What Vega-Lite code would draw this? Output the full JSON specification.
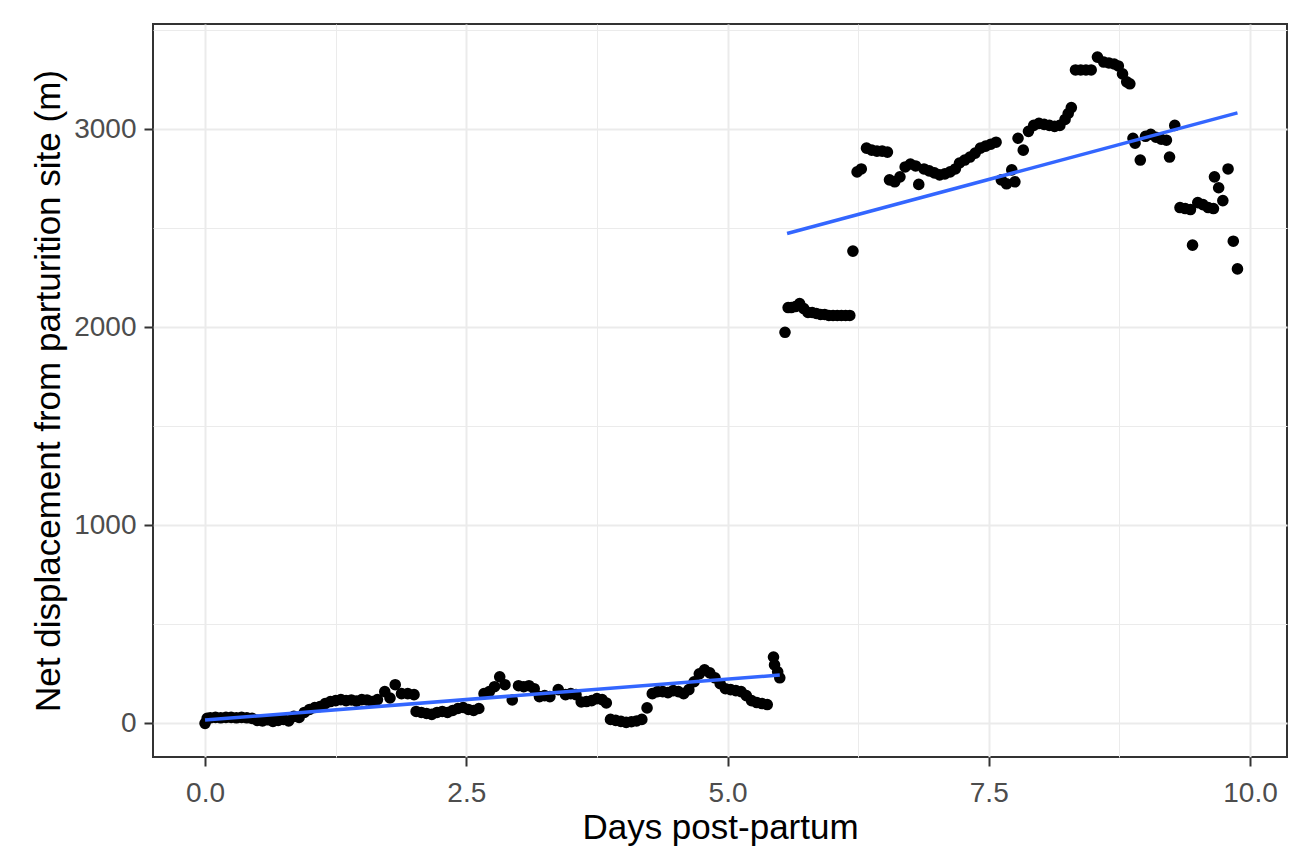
{
  "$schema": "https://vega.github.io/schema/vega-lite/v6.json",
  "width": 1134,
  "height": 733,
  "autosize": {"type": "none"},
  "padding": {"left": 153, "top": 24, "right": 2, "bottom": 103},
  "background": "white",
  "config": {
    "view": {"stroke": "#333333", "strokeWidth": 2},
    "font": "Liberation Sans"
  },
  "datasets": {
    "fit": [
      {"d": 0.00, "m": 17, "s": 1}, {"d": 5.50, "m": 244, "s": 1},
      {"d": 5.57, "m": 2474, "s": 2}, {"d": 9.88, "m": 3083, "s": 2}
    ],
    "pts": [
      {"d": 0.00, "m": 0, "s": 1}, {"d": 0.02, "m": 25, "s": 1}, {"d": 0.05, "m": 28, "s": 1}, {"d": 0.10, "m": 30, "s": 1},
      {"d": 0.15, "m": 28, "s": 1}, {"d": 0.20, "m": 30, "s": 1}, {"d": 0.25, "m": 30, "s": 1}, {"d": 0.30, "m": 28, "s": 1},
      {"d": 0.35, "m": 30, "s": 1}, {"d": 0.40, "m": 28, "s": 1}, {"d": 0.45, "m": 25, "s": 1}, {"d": 0.50, "m": 15, "s": 1},
      {"d": 0.55, "m": 12, "s": 1}, {"d": 0.60, "m": 18, "s": 1}, {"d": 0.65, "m": 10, "s": 1}, {"d": 0.70, "m": 15, "s": 1},
      {"d": 0.75, "m": 20, "s": 1}, {"d": 0.80, "m": 12, "s": 1}, {"d": 0.85, "m": 35, "s": 1}, {"d": 0.90, "m": 30, "s": 1},
      {"d": 0.95, "m": 55, "s": 1}, {"d": 1.00, "m": 70, "s": 1}, {"d": 1.05, "m": 80, "s": 1}, {"d": 1.10, "m": 85, "s": 1},
      {"d": 1.15, "m": 100, "s": 1}, {"d": 1.20, "m": 110, "s": 1}, {"d": 1.25, "m": 115, "s": 1}, {"d": 1.30, "m": 120, "s": 1},
      {"d": 1.35, "m": 115, "s": 1}, {"d": 1.40, "m": 118, "s": 1}, {"d": 1.45, "m": 112, "s": 1}, {"d": 1.50, "m": 120, "s": 1},
      {"d": 1.55, "m": 118, "s": 1}, {"d": 1.60, "m": 110, "s": 1}, {"d": 1.65, "m": 120, "s": 1}, {"d": 1.72, "m": 160, "s": 1},
      {"d": 1.77, "m": 128, "s": 1}, {"d": 1.82, "m": 195, "s": 1}, {"d": 1.88, "m": 150, "s": 1}, {"d": 1.94, "m": 150, "s": 1},
      {"d": 2.00, "m": 145, "s": 1}, {"d": 2.02, "m": 60, "s": 1}, {"d": 2.07, "m": 55, "s": 1}, {"d": 2.12, "m": 50, "s": 1},
      {"d": 2.17, "m": 45, "s": 1}, {"d": 2.22, "m": 55, "s": 1}, {"d": 2.27, "m": 60, "s": 1}, {"d": 2.32, "m": 55, "s": 1},
      {"d": 2.37, "m": 65, "s": 1}, {"d": 2.42, "m": 75, "s": 1}, {"d": 2.47, "m": 80, "s": 1}, {"d": 2.52, "m": 70, "s": 1},
      {"d": 2.57, "m": 65, "s": 1}, {"d": 2.62, "m": 75, "s": 1}, {"d": 2.67, "m": 150, "s": 1}, {"d": 2.72, "m": 160, "s": 1},
      {"d": 2.77, "m": 185, "s": 1}, {"d": 2.82, "m": 235, "s": 1}, {"d": 2.87, "m": 195, "s": 1}, {"d": 2.94, "m": 118, "s": 1},
      {"d": 3.00, "m": 190, "s": 1}, {"d": 3.05, "m": 185, "s": 1}, {"d": 3.10, "m": 190, "s": 1}, {"d": 3.15, "m": 175, "s": 1},
      {"d": 3.20, "m": 135, "s": 1}, {"d": 3.25, "m": 140, "s": 1}, {"d": 3.30, "m": 135, "s": 1}, {"d": 3.38, "m": 170, "s": 1},
      {"d": 3.45, "m": 145, "s": 1}, {"d": 3.50, "m": 150, "s": 1}, {"d": 3.55, "m": 145, "s": 1}, {"d": 3.60, "m": 108, "s": 1},
      {"d": 3.65, "m": 110, "s": 1}, {"d": 3.70, "m": 115, "s": 1}, {"d": 3.75, "m": 125, "s": 1}, {"d": 3.80, "m": 120, "s": 1},
      {"d": 3.84, "m": 103, "s": 1}, {"d": 3.88, "m": 20, "s": 1}, {"d": 3.93, "m": 15, "s": 1}, {"d": 3.98, "m": 10, "s": 1},
      {"d": 4.03, "m": 5, "s": 1}, {"d": 4.08, "m": 8, "s": 1}, {"d": 4.13, "m": 12, "s": 1}, {"d": 4.18, "m": 20, "s": 1},
      {"d": 4.23, "m": 78, "s": 1}, {"d": 4.28, "m": 150, "s": 1}, {"d": 4.33, "m": 160, "s": 1}, {"d": 4.38, "m": 160, "s": 1},
      {"d": 4.43, "m": 155, "s": 1}, {"d": 4.48, "m": 165, "s": 1}, {"d": 4.53, "m": 160, "s": 1}, {"d": 4.58, "m": 150, "s": 1},
      {"d": 4.63, "m": 170, "s": 1}, {"d": 4.68, "m": 210, "s": 1}, {"d": 4.73, "m": 250, "s": 1}, {"d": 4.78, "m": 270, "s": 1},
      {"d": 4.83, "m": 255, "s": 1}, {"d": 4.88, "m": 230, "s": 1}, {"d": 4.93, "m": 200, "s": 1}, {"d": 4.98, "m": 175, "s": 1},
      {"d": 5.03, "m": 170, "s": 1}, {"d": 5.08, "m": 165, "s": 1}, {"d": 5.13, "m": 160, "s": 1}, {"d": 5.18, "m": 140, "s": 1},
      {"d": 5.23, "m": 115, "s": 1}, {"d": 5.28, "m": 105, "s": 1}, {"d": 5.33, "m": 100, "s": 1}, {"d": 5.38, "m": 95, "s": 1},
      {"d": 5.44, "m": 335, "s": 1}, {"d": 5.45, "m": 295, "s": 1}, {"d": 5.48, "m": 260, "s": 1}, {"d": 5.50, "m": 230, "s": 1},
      {"d": 5.55, "m": 1975, "s": 2}, {"d": 5.58, "m": 2100, "s": 2}, {"d": 5.61, "m": 2100, "s": 2}, {"d": 5.65, "m": 2105, "s": 2},
      {"d": 5.69, "m": 2120, "s": 2}, {"d": 5.73, "m": 2095, "s": 2}, {"d": 5.77, "m": 2075, "s": 2}, {"d": 5.81, "m": 2075, "s": 2},
      {"d": 5.85, "m": 2070, "s": 2}, {"d": 5.89, "m": 2065, "s": 2}, {"d": 5.93, "m": 2065, "s": 2}, {"d": 5.97, "m": 2060, "s": 2},
      {"d": 6.01, "m": 2060, "s": 2}, {"d": 6.05, "m": 2060, "s": 2}, {"d": 6.09, "m": 2060, "s": 2}, {"d": 6.13, "m": 2060, "s": 2},
      {"d": 6.17, "m": 2060, "s": 2}, {"d": 6.20, "m": 2385, "s": 2}, {"d": 6.24, "m": 2785, "s": 2}, {"d": 6.28, "m": 2800, "s": 2},
      {"d": 6.33, "m": 2905, "s": 2}, {"d": 6.38, "m": 2895, "s": 2}, {"d": 6.43, "m": 2890, "s": 2}, {"d": 6.48, "m": 2890, "s": 2},
      {"d": 6.53, "m": 2885, "s": 2}, {"d": 6.55, "m": 2745, "s": 2}, {"d": 6.60, "m": 2735, "s": 2}, {"d": 6.65, "m": 2760, "s": 2},
      {"d": 6.70, "m": 2810, "s": 2}, {"d": 6.75, "m": 2825, "s": 2}, {"d": 6.80, "m": 2815, "s": 2}, {"d": 6.83, "m": 2722, "s": 2},
      {"d": 6.88, "m": 2800, "s": 2}, {"d": 6.93, "m": 2790, "s": 2}, {"d": 6.98, "m": 2780, "s": 2}, {"d": 7.03, "m": 2770, "s": 2},
      {"d": 7.08, "m": 2775, "s": 2}, {"d": 7.13, "m": 2785, "s": 2}, {"d": 7.18, "m": 2800, "s": 2}, {"d": 7.22, "m": 2830, "s": 2},
      {"d": 7.27, "m": 2845, "s": 2}, {"d": 7.32, "m": 2860, "s": 2}, {"d": 7.37, "m": 2880, "s": 2}, {"d": 7.42, "m": 2905, "s": 2},
      {"d": 7.47, "m": 2915, "s": 2}, {"d": 7.52, "m": 2925, "s": 2}, {"d": 7.57, "m": 2935, "s": 2}, {"d": 7.62, "m": 2745, "s": 2},
      {"d": 7.67, "m": 2725, "s": 2}, {"d": 7.72, "m": 2795, "s": 2}, {"d": 7.75, "m": 2735, "s": 2}, {"d": 7.78, "m": 2955, "s": 2},
      {"d": 7.83, "m": 2895, "s": 2}, {"d": 7.88, "m": 2990, "s": 2}, {"d": 7.93, "m": 3020, "s": 2}, {"d": 7.98, "m": 3030, "s": 2},
      {"d": 8.03, "m": 3025, "s": 2}, {"d": 8.08, "m": 3020, "s": 2}, {"d": 8.13, "m": 3015, "s": 2}, {"d": 8.18, "m": 3020, "s": 2},
      {"d": 8.23, "m": 3050, "s": 2}, {"d": 8.26, "m": 3080, "s": 2}, {"d": 8.29, "m": 3110, "s": 2}, {"d": 8.33, "m": 3300, "s": 2},
      {"d": 8.38, "m": 3300, "s": 2}, {"d": 8.43, "m": 3300, "s": 2}, {"d": 8.48, "m": 3300, "s": 2}, {"d": 8.54, "m": 3365, "s": 2},
      {"d": 8.60, "m": 3340, "s": 2}, {"d": 8.65, "m": 3335, "s": 2}, {"d": 8.70, "m": 3330, "s": 2}, {"d": 8.74, "m": 3320, "s": 2},
      {"d": 8.78, "m": 3280, "s": 2}, {"d": 8.82, "m": 3240, "s": 2}, {"d": 8.85, "m": 3230, "s": 2}, {"d": 8.88, "m": 2955, "s": 2},
      {"d": 8.90, "m": 2930, "s": 2}, {"d": 8.95, "m": 2845, "s": 2}, {"d": 9.00, "m": 2965, "s": 2}, {"d": 9.05, "m": 2975, "s": 2},
      {"d": 9.10, "m": 2960, "s": 2}, {"d": 9.15, "m": 2950, "s": 2}, {"d": 9.20, "m": 2945, "s": 2}, {"d": 9.23, "m": 2860, "s": 2},
      {"d": 9.28, "m": 3020, "s": 2}, {"d": 9.33, "m": 2605, "s": 2}, {"d": 9.38, "m": 2600, "s": 2}, {"d": 9.43, "m": 2595, "s": 2},
      {"d": 9.45, "m": 2415, "s": 2}, {"d": 9.50, "m": 2630, "s": 2}, {"d": 9.55, "m": 2620, "s": 2}, {"d": 9.60, "m": 2605, "s": 2},
      {"d": 9.65, "m": 2600, "s": 2}, {"d": 9.66, "m": 2760, "s": 2}, {"d": 9.70, "m": 2705, "s": 2}, {"d": 9.74, "m": 2640, "s": 2},
      {"d": 9.79, "m": 2800, "s": 2}, {"d": 9.84, "m": 2435, "s": 2}, {"d": 9.88, "m": 2295, "s": 2}
    ]
  },
  "layer": [
    {
      "data": {"name": "pts"},
      "mark": {"type": "point", "filled": true, "color": "black", "size": 135, "opacity": 1},
      "encoding": {
        "x": {
          "field": "d",
          "type": "quantitative",
          "scale": {"domain": [-0.498, 10.354], "nice": false, "zero": false},
          "axis": {
            "title": "Days post-partum",
            "values": [0, 1.25, 2.5, 3.75, 5, 6.25, 7.5, 8.75, 10],
            "labelExpr": "datum.value % 2.5 === 0 ? format(datum.value, '.1f') : ''",
            "grid": true,
            "gridColor": "#EBEBEB",
            "gridWidth": {"condition": {"test": "datum.value % 2.5 === 0", "value": 2}, "value": 1},
            "tickOpacity": {"condition": {"test": "datum.value % 2.5 === 0", "value": 1}, "value": 0},
            "tickColor": "#333333",
            "tickWidth": 2,
            "tickSize": 9,
            "labelPadding": 13,
            "labelFontSize": 28,
            "labelColor": "#4D4D4D",
            "labelFont": "Liberation Sans",
            "labelFlush": false,
            "labelOverlap": false,
            "titleFont": "Liberation Sans",
            "titleFontSize": 35,
            "titleFontWeight": "normal",
            "titleColor": "black",
            "titleY": 81,
            "titleBaseline": "alphabetic",
            "domain": false
          }
        },
        "y": {
          "field": "m",
          "type": "quantitative",
          "scale": {"domain": [-170, 3532], "nice": false, "zero": false},
          "axis": {
            "title": "Net displacement from parturition site (m)",
            "values": [0, 500, 1000, 1500, 2000, 2500, 3000, 3500],
            "labelExpr": "datum.value % 1000 === 0 ? format(datum.value, 'd') : ''",
            "grid": true,
            "gridColor": "#EBEBEB",
            "gridWidth": {"condition": {"test": "datum.value % 1000 === 0", "value": 2}, "value": 1},
            "tickOpacity": {"condition": {"test": "datum.value % 1000 === 0", "value": 1}, "value": 0},
            "tickColor": "#333333",
            "tickWidth": 2,
            "tickSize": 9,
            "labelPadding": 8,
            "labelFontSize": 28,
            "labelColor": "#4D4D4D",
            "labelFont": "Liberation Sans",
            "labelFlush": false,
            "labelOverlap": false,
            "titleFont": "Liberation Sans",
            "titleFontSize": 35,
            "titleFontWeight": "normal",
            "titleColor": "black",
            "titleX": -94,
            "titleBaseline": "alphabetic",
            "domain": false
          }
        }
      }
    },
    {
      "data": {"name": "fit"},
      "mark": {"type": "line", "color": "#3366FF", "strokeWidth": 3.5},
      "encoding": {
        "x": {"field": "d", "type": "quantitative"},
        "y": {"field": "m", "type": "quantitative"},
        "detail": {"field": "s", "type": "nominal"}
      }
    }
  ]
}
